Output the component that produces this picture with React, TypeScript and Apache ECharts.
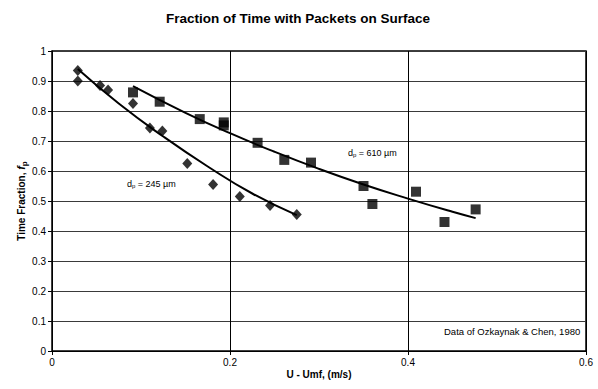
import React, { useEffect, useRef } from "react";
import * as echarts from "echarts";

const xTicks = [0, 0.2, 0.4, 0.6];
const yTicks = [0, 0.1, 0.2, 0.3, 0.4, 0.5, 0.6, 0.7, 0.8, 0.9, 1];

// d_p = 245 µm (diamonds)
const d245X = [0.029, 0.029, 0.054, 0.063, 0.091, 0.11, 0.124, 0.152, 0.181, 0.211, 0.245, 0.275];
const d245Y = [0.935, 0.9, 0.885, 0.87, 0.825, 0.743, 0.733, 0.625, 0.555, 0.515, 0.485, 0.455];

// d_p = 610 µm (squares)
const d610X = [0.091, 0.121, 0.166, 0.193, 0.193, 0.231, 0.261, 0.291, 0.35, 0.36, 0.409, 0.441, 0.476];
const d610Y = [0.862, 0.831, 0.773, 0.762, 0.752, 0.694, 0.637, 0.628, 0.55, 0.49, 0.531, 0.43, 0.472];

// trend lines
const fit245X = [0.029, 0.075, 0.125, 0.175, 0.225, 0.275];
const fit245Y = [0.94, 0.825, 0.715, 0.615, 0.525, 0.453];
const fit610X = [0.091, 0.15, 0.2, 0.25, 0.3, 0.35, 0.4, 0.45, 0.476];
const fit610Y = [0.883, 0.794, 0.726, 0.664, 0.607, 0.555, 0.508, 0.464, 0.443];

const zip = (xs: number[], ys: number[]) => xs.map((x, i) => [x, ys[i]]);

export default function App() {
  const ref = useRef<HTMLDivElement>(null);
  useEffect(() => {
    if (!ref.current) return;
    const chart = echarts.init(ref.current, null, { renderer: "svg" });
    const font = "Liberation Sans, Arial, sans-serif";
    chart.setOption({
      animation: false,
      backgroundColor: "#fff",
      textStyle: { fontFamily: font, color: "#000" },
      title: {
        text: "Fraction of Time with Packets on Surface",
        left: 293,
        textAlign: "center",
        top: 6,
        textStyle: { fontFamily: font, fontSize: 13.5, fontWeight: "bold", color: "#000" },
      },
      grid: {
        left: 52,
        right: 12,
        top: 51,
        bottom: 38,
        show: true,
        borderColor: "#000",
        borderWidth: 1.5,
        backgroundColor: "transparent",
      },
      xAxis: {
        type: "value",
        min: xTicks[0],
        max: xTicks[xTicks.length - 1],
        interval: 0.2,
        name: "U - Umf, (m/s)",
        nameLocation: "middle",
        nameGap: 18,
        nameMoveOverlap: false,
        nameTextStyle: { fontFamily: font, fontSize: 10, fontWeight: "bold", color: "#000" },
        axisLine: { show: true, onZero: false, lineStyle: { color: "#000", width: 1 } },
        axisTick: { show: true, length: 4, lineStyle: { color: "#000" } },
        axisLabel: { fontFamily: font, fontSize: 10, color: "#000", margin: 6, formatter: (v: number) => String(+v.toFixed(1)) },
        splitLine: { show: true, lineStyle: { color: "#000", width: 1 } },
      },
      yAxis: {
        type: "value",
        min: yTicks[0],
        max: yTicks[yTicks.length - 1],
        interval: 0.1,
        name: "{a|Time Fraction, }{f|f}{p|p}",
        nameLocation: "middle",
        nameGap: 24,
        nameMoveOverlap: false,
        nameRotate: 90,
        nameTextStyle: {
          rich: {
            a: { fontFamily: font, fontSize: 10, fontWeight: "bold", color: "#000" },
            f: { fontFamily: font, fontSize: 11, fontWeight: "bold", fontStyle: "italic", color: "#000" },
            p: { fontFamily: font, fontSize: 8, fontWeight: "bold", color: "#000", padding: [6, 0, 0, 0] },
          },
        },
        axisLine: { show: true, lineStyle: { color: "#000", width: 1 } },
        axisTick: { show: true, length: 4, lineStyle: { color: "#000" } },
        axisLabel: { fontFamily: font, fontSize: 10, color: "#000", margin: 6, formatter: (v: number) => String(+v.toFixed(1)) },
        splitLine: { show: true, lineStyle: { color: "#3a3a3a", width: 1 } },
      },
      series: [
        {
          name: "245 fit",
          type: "line",
          data: zip(fit245X, fit245Y),
          smooth: true,
          showSymbol: false,
          lineStyle: { color: "#000", width: 2 },
          z: 3,
        },
        {
          name: "610 fit",
          type: "line",
          data: zip(fit610X, fit610Y),
          smooth: true,
          showSymbol: false,
          lineStyle: { color: "#000", width: 2 },
          z: 3,
        },
        {
          name: "dp 245",
          type: "scatter",
          data: zip(d245X, d245Y),
          symbol: "diamond",
          symbolSize: [10, 11],
          itemStyle: { color: "#000" },
          z: 4,
        },
        {
          name: "dp 610",
          type: "scatter",
          data: zip(d610X, d610Y),
          symbol: "rect",
          symbolSize: 10,
          itemStyle: { color: "#000" },
          z: 4,
        },
      ],
      graphic: [
        {
          type: "text",
          left: 127,
          top: 179,
          style: {
            text: "d{s|p} = 245 µm",
            rich: { s: { fontSize: 6, padding: [5, 0, 0, 0], fontFamily: font } },
            fontFamily: font,
            fontSize: 9,
            fill: "#000",
          },
        },
        {
          type: "text",
          left: 348,
          top: 148,
          style: {
            text: "d{s|p} = 610 µm",
            rich: { s: { fontSize: 6, padding: [5, 0, 0, 0], fontFamily: font } },
            fontFamily: font,
            fontSize: 9,
            fill: "#000",
          },
        },
        {
          type: "text",
          left: 444,
          top: 326,
          style: {
            text: "Data of Ozkaynak & Chen, 1980",
            fontFamily: font,
            fontSize: 9.5,
            fill: "#000",
          },
        },
      ],
    });
    return () => chart.dispose();
  }, []);
  return <div ref={ref} style={{ width: 598, height: 389, position: "absolute", left: 0, top: 0 }} />;
}
